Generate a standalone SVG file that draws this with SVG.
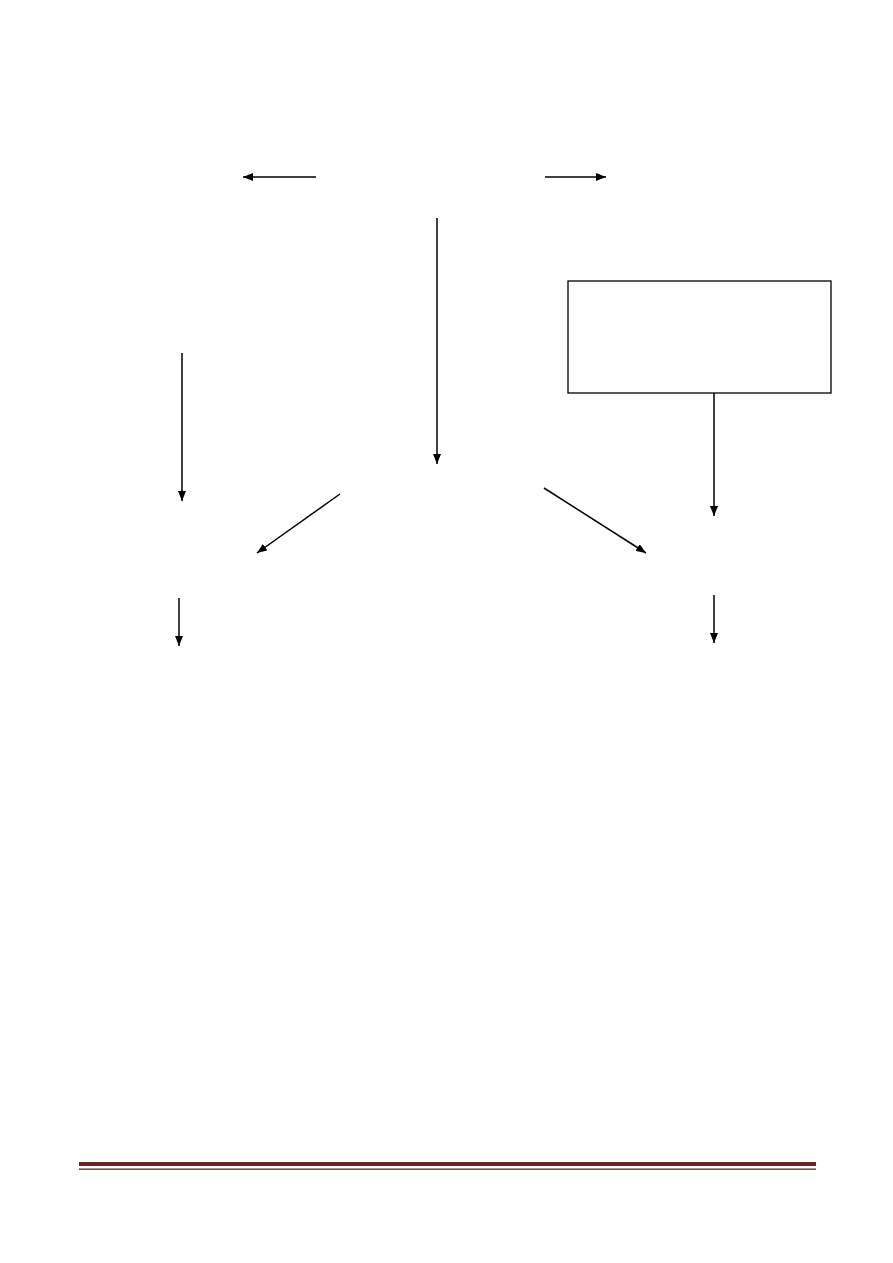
<svg xmlns="http://www.w3.org/2000/svg" width="893" height="1263" viewBox="0 0 893 1263">
<style>
.c{stroke:#000;stroke-width:1.5;fill:none;marker-end:url(#ah)}
.box{fill:#fff;stroke:#000;stroke-width:1.3}
</style>
<defs>
<marker id="ah" viewBox="0 0 10 8" refX="10" refY="4" markerWidth="10" markerHeight="8" markerUnits="userSpaceOnUse" orient="auto">
<path d="M0,0 L10,4 L0,8 Z" fill="#000"/>
</marker>
</defs>
<rect width="893" height="1263" fill="#fff"/>
<g id="box1"><rect class="box" x="568" y="281" width="263" height="112"/></g>
<g id="connectors">
<line class="c" x1="316" y1="177" x2="243" y2="177"/>
<line class="c" x1="545" y1="177" x2="606" y2="177"/>
<line class="c" x1="437" y1="218" x2="437" y2="464"/>
<line class="c" x1="714" y1="393" x2="714" y2="516"/>
<line class="c" x1="182" y1="353" x2="182" y2="501"/>
<line class="c" x1="340" y1="494" x2="257" y2="553"/>
<line class="c" x1="544" y1="488" x2="646" y2="553"/>
<line class="c" x1="179" y1="598" x2="179" y2="646"/>
<line class="c" x1="714" y1="595" x2="714" y2="643"/>
</g>
<g id="footer">
<rect x="79" y="1162" width="737" height="4" fill="#632523"/>
<rect x="79" y="1168.5" width="737" height="1.3" fill="#632523"/>
</g>
</svg>
